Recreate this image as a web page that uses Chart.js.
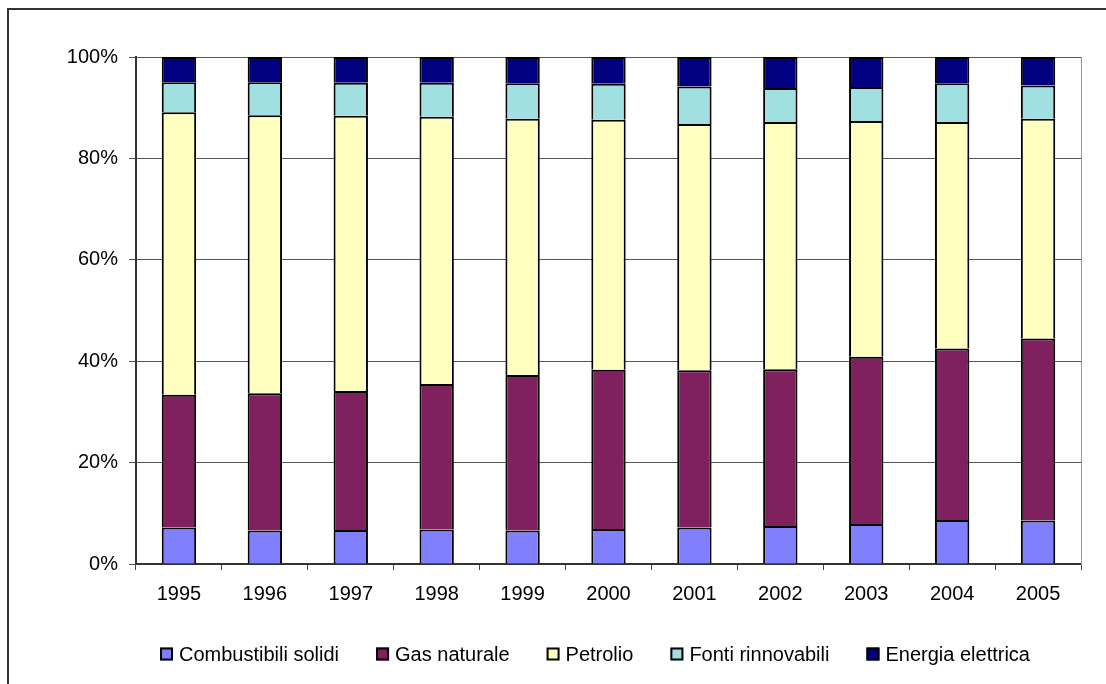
<!DOCTYPE html>
<html lang="it">
<head>
<meta charset="utf-8">
<title>Consumi energetici per fonte</title>
<script src="https://cdn.jsdelivr.net/npm/chart.js@4.4.1/dist/chart.umd.min.js"></script>
<style>
    html, body { margin: 0; padding: 0; background: #fff; }
    #chart { display: block; }
</style>
</head>
<body>
<canvas id="chart" width="1106" height="684"></canvas>
<script>
// Anni e quote percentuali per fonte
const years = ['1995', '1996', '1997', '1998', '1999', '2000', '2001', '2002', '2003', '2004', '2005'];
const combustibiliSolidi = [7.2, 6.6, 6.7, 6.8, 6.6, 6.9, 7.2, 7.5, 7.9, 8.7, 8.6];
const gasNaturale = [26.2, 27.1, 27.4, 28.7, 30.7, 31.4, 31.0, 30.9, 33.0, 33.8, 35.9];
const petrolio = [55.7, 54.8, 54.3, 52.7, 50.5, 49.3, 48.6, 48.8, 46.5, 44.7, 43.3];
const fontiRinnovabili = [5.9, 6.5, 6.5, 6.7, 7.0, 7.1, 7.4, 6.7, 6.7, 7.6, 6.6];
const energiaElettrica = [5.0, 5.0, 5.1, 5.1, 5.2, 5.3, 5.8, 6.1, 5.9, 5.2, 5.6];
const yTicks = [0, 20, 40, 60, 80, 100];

const FONT = '"Liberation Sans", Arial, sans-serif';

function serie(label, data, color) {
    return {
        label: label,
        data: data,
        backgroundColor: color,
        borderColor: '#000',
        borderWidth: 2,
        barPercentage: 0.4,
        categoryPercentage: 1.0
    };
}

// cornice esterna (solo lato sinistro e superiore visibili)
const frame = {
    id: 'frame',
    beforeDraw(chart) {
        const ctx = chart.ctx;
        ctx.save();
        ctx.strokeStyle = '#333';
        ctx.lineWidth = 2;
        ctx.beginPath();
        ctx.moveTo(8, chart.height);
        ctx.lineTo(8, 9);
        ctx.lineTo(chart.width, 9);
        ctx.stroke();
        ctx.restore();
    }
};

// legenda su una riga sotto l'asse
const legendRow = {
    id: 'legendRow',
    afterDraw(chart) {
        const ctx = chart.ctx;
        const box = 13, gap = 6, spacing = 37;
        const cx = 595, cy = 654;
        ctx.save();
        ctx.font = '20px ' + FONT;
        ctx.textBaseline = 'middle';
        const items = chart.data.datasets.map(ds => ({
            label: ds.label,
            color: ds.backgroundColor,
            w: ctx.measureText(ds.label).width
        }));
        const total = items.reduce((s, it) => s + box + gap + it.w, 0) + spacing * (items.length - 1);
        let x = Math.round(cx - total / 2);
        items.forEach(it => {
            ctx.fillStyle = it.color;
            ctx.fillRect(x, cy - box / 2, box, box);
            ctx.strokeStyle = '#000';
            ctx.lineWidth = 2;
            ctx.strokeRect(x + 1, cy - box / 2 + 1, box - 2, box - 2);
            ctx.fillStyle = '#000';
            ctx.fillText(it.label, x + box + gap, cy + 1);
            x += box + gap + it.w + spacing;
        });
        ctx.restore();
    }
};

new Chart(document.getElementById('chart').getContext('2d'), {
    type: 'bar',
    data: {
        labels: years,
        datasets: [
            serie('Combustibili solidi', combustibiliSolidi, '#8080FF'),
            serie('Gas naturale', gasNaturale, '#80205F'),
            serie('Petrolio', petrolio, '#FFFFC0'),
            serie('Fonti rinnovabili', fontiRinnovabili, '#A0E0E0'),
            serie('Energia elettrica', energiaElettrica, '#000080')
        ]
    },
    options: {
        responsive: false,
        animation: false,
        layout: {
            padding: { left: 0, top: 57, right: 25, bottom: 80 }
        },
        scales: {
            x: {
                stacked: true,
                afterFit: (scale) => { scale.height = 40; },
                grid: {
                    display: true,
                    offset: true,
                    drawOnChartArea: false,
                    drawTicks: true,
                    tickLength: 6,
                    color: '#444',
                    lineWidth: 1
                },
                border: { display: true, color: '#333', width: 2 },
                ticks: {
                    color: '#000',
                    padding: 12,
                    maxRotation: 0,
                    font: { family: FONT, size: 20 }
                }
            },
            y: {
                stacked: true,
                min: 0,
                max: 100,
                afterFit: (scale) => { scale.width = 136; },
                afterBuildTicks: (scale) => { scale.ticks = yTicks.map(v => ({ value: v })); },
                grid: {
                    display: true,
                    drawTicks: true,
                    tickLength: 7,
                    color: '#555',
                    lineWidth: 1
                },
                border: { display: true, color: '#333', width: 2 },
                ticks: {
                    color: '#000',
                    padding: 11,
                    font: { family: FONT, size: 20 },
                    callback: (v) => v + '%'
                }
            },
            // bordo destro dell'area del grafico
            yRight: {
                position: 'right',
                afterFit: (scale) => { scale.width = 0; },
                grid: { display: false },
                ticks: { display: false },
                border: { display: true, color: '#999', width: 1 }
            }
        },
        plugins: {
            legend: { display: false },
            tooltip: { enabled: false }
        }
    },
    plugins: [frame, legendRow]
});
</script>
</body>
</html>
